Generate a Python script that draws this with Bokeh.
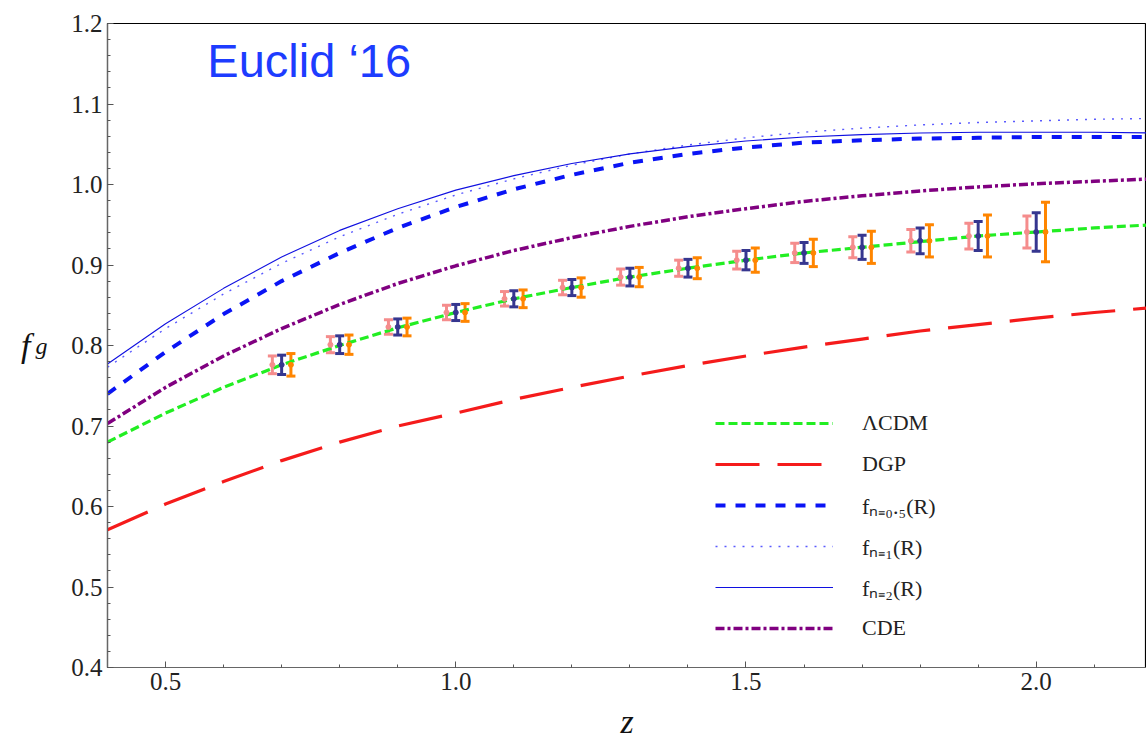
from bokeh.plotting import figure
from bokeh.models import (Range1d, Legend, LegendItem, Whisker, TeeHead, ColumnDataSource,
                          Label, SingleIntervalTicker, PrintfTickFormatter, LinearAxis, FixedTicker)
from bokeh.embed import file_html
from bokeh.resources import INLINE

# ---------------- data ----------------
z_grid = [0.4, 0.5, 0.6, 0.7, 0.8, 0.9, 1.0, 1.1, 1.2, 1.3, 1.4, 1.5, 1.6, 1.7, 1.8, 1.9, 2.0, 2.1, 2.2]
lcdm = [0.680, 0.716, 0.748, 0.776, 0.800, 0.822, 0.841, 0.858, 0.872, 0.885, 0.896, 0.906, 0.915, 0.922, 0.929, 0.936, 0.941, 0.946, 0.950]
dgp = [0.571, 0.603, 0.631, 0.657, 0.680, 0.700, 0.716, 0.733, 0.748, 0.762, 0.775, 0.787, 0.798, 0.808, 0.818, 0.826, 0.834, 0.841, 0.847]
fr_n05 = [0.740, 0.792, 0.839, 0.880, 0.915, 0.946, 0.972, 0.994, 1.012, 1.027, 1.038, 1.046, 1.052, 1.055, 1.057, 1.058, 1.059, 1.059, 1.059]
fr_n1 = [0.773, 0.821, 0.864, 0.902, 0.935, 0.963, 0.987, 1.007, 1.024, 1.038, 1.049, 1.058, 1.065, 1.070, 1.074, 1.077, 1.079, 1.081, 1.082]
fr_n2 = [0.777, 0.827, 0.871, 0.910, 0.943, 0.970, 0.993, 1.011, 1.026, 1.038, 1.047, 1.054, 1.059, 1.062, 1.064, 1.065, 1.065, 1.065, 1.064]
cde = [0.703, 0.748, 0.787, 0.821, 0.851, 0.877, 0.899, 0.918, 0.934, 0.948, 0.960, 0.970, 0.979, 0.986, 0.992, 0.997, 1.001, 1.004, 1.007]

z_data = [0.7, 0.8, 0.9, 1.0, 1.1, 1.2, 1.3, 1.4, 1.5, 1.6, 1.7, 1.8, 1.9, 2.0]
f_data = [0.776, 0.801, 0.823, 0.841, 0.858, 0.872, 0.885, 0.896, 0.906, 0.915, 0.922, 0.930, 0.936, 0.941]
err_pink = [0.011, 0.010, 0.009, 0.009, 0.009, 0.009, 0.010, 0.010, 0.011, 0.012, 0.013, 0.014, 0.016, 0.020]
err_navy = [0.012, 0.011, 0.010, 0.010, 0.010, 0.010, 0.011, 0.011, 0.012, 0.013, 0.015, 0.016, 0.018, 0.024]
err_orange = [0.014, 0.012, 0.011, 0.011, 0.011, 0.012, 0.012, 0.013, 0.015, 0.017, 0.020, 0.020, 0.026, 0.037]

x_ticks_interval = 0.5
y_ticks_interval = 0.1

legend_labels = ["ΛCDM", "DGP", "fₙ₌₀.₅(R)", "fₙ₌₁(R)", "fₙ₌₂(R)", "CDE"]

# ---------------- figure ----------------
p = figure(width=1146, height=742, x_range=Range1d(0.4, 2.19), y_range=Range1d(0.4, 1.2000001),
           output_backend="svg", toolbar_location=None,
           min_border_left=107, min_border_right=0, min_border_top=23, min_border_bottom=75)
p.grid.visible = False
p.background_fill_color = "white"
p.border_fill_color = "white"
p.outline_line_color = "black"
p.outline_line_width = 1.2

p.xaxis.ticker = SingleIntervalTicker(interval=x_ticks_interval, num_minor_ticks=5)
p.yaxis.ticker = SingleIntervalTicker(interval=y_ticks_interval, num_minor_ticks=5)
p.xaxis.formatter = PrintfTickFormatter(format="%.1f")
p.yaxis.formatter = PrintfTickFormatter(format="%.1f")
for ax in (p.xaxis, p.yaxis):
    ax.axis_line_color = "#666666"
    ax.axis_line_width = 1.2
    ax.major_tick_in = 6
    ax.major_tick_out = 0
    ax.minor_tick_in = 3
    ax.minor_tick_out = 0
    ax.major_tick_line_color = "#555555"
    ax.minor_tick_line_color = "#555555"
    ax.major_label_text_font = "Liberation Serif"
    ax.major_label_text_font_size = "25px"
    ax.major_label_text_color = "#222222"
p.xaxis.major_label_standoff = 5
p.yaxis.major_label_standoff = 5
p.xaxis.axis_label = "z"
p.xaxis.axis_label_text_font = "Liberation Serif"
p.xaxis.axis_label_text_font_style = "italic"
p.xaxis.axis_label_text_font_size = "34px"
p.xaxis.axis_label_text_color = "#111111"
p.xaxis.axis_label_standoff = 10

# y-axis title "f_g" built from two label-only axes
ax_g = LinearAxis(ticker=FixedTicker(ticks=[]), axis_label="g", axis_label_orientation="horizontal",
                  axis_line_color=None, major_tick_line_color=None, minor_tick_line_color=None,
                  axis_label_standoff=21, axis_label_text_font="Liberation Serif",
                  axis_label_text_font_style="italic", axis_label_text_font_size="24px",
                  axis_label_text_baseline="top",
                  axis_label_text_color="#111111")
p.add_layout(ax_g, "left")
ax_f = LinearAxis(ticker=FixedTicker(ticks=[]), axis_label="f", axis_label_orientation="horizontal",
                  axis_line_color=None, major_tick_line_color=None, minor_tick_line_color=None,
                  axis_label_standoff=2, axis_label_text_font="Liberation Serif",
                  axis_label_text_font_style="italic", axis_label_text_font_size="34px",
                  axis_label_text_color="#111111")
p.add_layout(ax_f, "left")

# ---------------- curves ----------------
r_lcdm = p.line(z_grid, lcdm, line_color="#22ee22", line_width=3.2, line_dash="9 4")
r_dgp = p.line(z_grid, dgp, line_color="#f51b1b", line_width=3.2, line_dash="44 18")
r_n05 = p.line(z_grid, fr_n05, line_color="#0a14f5", line_width=4, line_dash="10 10")
r_n1 = p.line(z_grid, fr_n1, line_color="#5a5aff", line_width=1.4, line_dash="2 7")
r_n2 = p.line(z_grid, fr_n2, line_color="#1010e0", line_width=1.1)
r_cde = p.line(z_grid, cde, line_color="#800080", line_width=3.5, line_dash="9 3 3 3")

# ---------------- error bars ----------------
offset = 0.016
sets = [(-offset, err_pink, "#f58c8c"), (0.0, err_navy, "#36368f"), (offset, err_orange, "#ff8500")]
for dx, err, col in sets:
    src = ColumnDataSource(dict(
        x=[z + dx for z in z_data],
        y=f_data,
        lo=[f - e for f, e in zip(f_data, err)],
        hi=[f + e for f, e in zip(f_data, err)],
    ))
    w = Whisker(source=src, base="x", lower="lo", upper="hi", dimension="height",
                line_color=col, line_width=3,
                upper_head=TeeHead(size=9, line_color=col, line_width=3),
                lower_head=TeeHead(size=9, line_color=col, line_width=3))
    p.add_layout(w)
    p.scatter("x", "y", source=src, size=5, color=col)

# ---------------- legend ----------------
legend = Legend(items=[LegendItem(label=l, renderers=[r]) for l, r in
                       zip(legend_labels, [r_lcdm, r_dgp, r_n05, r_n1, r_n2, r_cde])],
                location=(608, 24), orientation="vertical",
                background_fill_alpha=0, border_line_alpha=0,
                glyph_width=118, glyph_height=30, label_height=30,
                spacing=11, padding=0, margin=0, label_standoff=29,
                label_text_font="Liberation Serif", label_text_font_size="22px",
                label_text_color="#222222")
p.add_layout(legend)

# ---------------- texts ----------------
p.add_layout(Label(x=0.572, y=1.1536, text="Euclid ‘16", text_font="Liberation Sans",
                   text_font_size="47px", text_color="#1d3cff", text_baseline="alphabetic"))

open("out.html", "w").write(file_html(p, INLINE))
